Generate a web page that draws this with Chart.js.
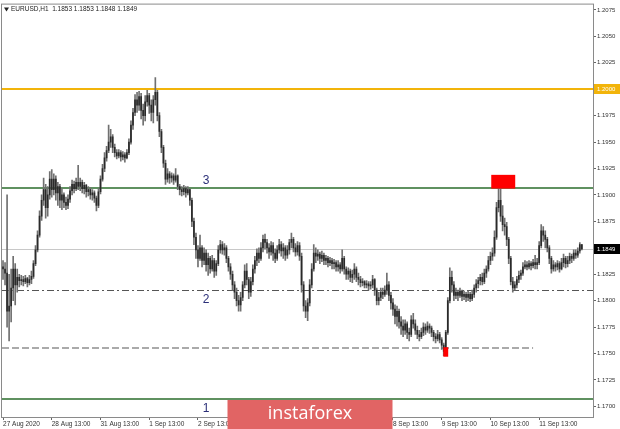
<!DOCTYPE html>
<html>
<head>
<meta charset="utf-8">
<script src="https://cdn.jsdelivr.net/npm/chart.js@4.4.0/dist/chart.umd.min.js"></script>
<style>
  html, body { margin: 0; padding: 0; background: #fff; }
</style>
</head>
<body>
<canvas id="chart" width="620" height="429"></canvas>
<script>
// EURUSD H1 candles, prices kept in pips above 1.0000 (1849 -> 1.1849)
const closeP = [
  1830,1826,1790,1795,1812,1830,1815,1822,1819,1820, 1818,1821,1817,1820,1823,1835,1848,1862,1880,1895,
  1905,1888,1900,1915,1905,1915,1902,1908,1895,1900, 1893,1890,1896,1904,1910,1906,1912,1908,1912,1906,
  1909,1903,1905,1900,1902,1897,1890,1903,1915,1925, 1935,1942,1950,1955,1945,1940,1937,1940,1936,1938,
  1935,1940,1950,1966,1978,1990,1985,1993,1980,1975, 1988,1994,1985,1978,1990,1997,1975,1960,1945,1930,
  1915,1920,1916,1918,1914,1918,1908,1905,1903,1906, 1902,1905,1895,1875,1860,1848,1840,1850,1838,1845,
  1834,1840,1830,1838,1828,1835,1848,1853,1848,1850, 1840,1832,1825,1815,1808,1800,1796,1803,1815,1828,
  1820,1808,1818,1830,1838,1845,1840,1850,1858,1855, 1850,1846,1852,1845,1840,1848,1853,1847,1850,1843,
  1848,1855,1858,1850,1846,1852,1842,1815,1795,1790, 1798,1815,1830,1845,1842,1844,1840,1843,1838,1840,
  1836,1838,1835,1836,1832,1834,1830,1840,1830,1825, 1828,1822,1825,1830,1822,1820,1817,1818,1815,1816,
  1814,1815,1820,1810,1800,1803,1808,1806,1810,1815, 1805,1798,1792,1785,1790,1780,1776,1772,1778,1770,
  1768,1782,1778,1772,1768,1766,1770,1775,1772,1776, 1774,1770,1766,1764,1768,1763,1758,1752,1770,1800,
  1822,1815,1805,1808,1805,1809,1804,1806,1803,1806, 1802,1806,1812,1816,1819,1822,1818,1826,1830,1838,
  1842,1845,1860,1888,1895,1880,1872,1870,1858,1840, 1818,1812,1815,1820,1824,1826,1832,1834,1832,1835,
  1833,1836,1834,1836,1852,1866,1862,1858,1850,1840, 1830,1834,1832,1835,1830,1836,1840,1835,1838,1842,
  1840,1845,1843,1847,1853,1849
];
const highP = [
  1838,1836,1900,1825,1830,1842,1835,1830,1825,1824, 1823,1824,1822,1824,1828,1838,1852,1866,1885,1900,
  1916,1910,1908,1922,1924,1920,1918,1912,1910,1906, 1902,1898,1900,1908,1914,1913,1916,1928,1916,1914,
  1912,1910,1908,1907,1905,1904,1899,1906,1918,1929, 1940,1946,1966,1962,1957,1948,1943,1943,1942,1941,
  1940,1943,1953,1970,1982,1995,1997,1998,1996,1986, 1994,1999,1996,1990,1994,2011,1999,1978,1962,1947,
  1933,1925,1922,1921,1920,1925,1919,1910,1908,1909, 1908,1908,1906,1897,1878,1864,1852,1862,1852,1850,
  1848,1845,1842,1843,1840,1838,1852,1857,1856,1854, 1852,1842,1835,1828,1818,1812,1805,1808,1818,1834,
  1835,1822,1822,1834,1842,1849,1850,1855,1862,1863, 1858,1854,1856,1855,1849,1852,1858,1856,1854,1852,
  1852,1858,1864,1860,1854,1856,1855,1845,1818,1800, 1802,1820,1835,1853,1850,1848,1846,1847,1845,1843,
  1842,1841,1840,1839,1838,1838,1836,1848,1842,1832, 1831,1830,1829,1835,1832,1826,1823,1821,1819,1819,
  1818,1818,1824,1821,1812,1808,1812,1812,1814,1826, 1818,1808,1802,1796,1795,1792,1785,1782,1782,1780,
  1774,1786,1788,1782,1776,1772,1774,1779,1778,1780, 1778,1776,1772,1769,1772,1770,1765,1760,1772,1803,
  1831,1828,1818,1812,1810,1812,1810,1809,1808,1809, 1808,1810,1815,1820,1822,1825,1826,1830,1833,1842,
  1846,1850,1866,1893,1908,1912,1890,1878,1874,1860, 1842,1822,1818,1823,1828,1829,1836,1838,1837,1838,
  1837,1839,1843,1840,1856,1872,1870,1866,1860,1852, 1842,1838,1836,1838,1837,1840,1844,1842,1842,1845,
  1844,1848,1848,1850,1855,1853
];
const lowP = [
  1820,1815,1775,1762,1780,1800,1796,1808,1813,1815, 1814,1816,1813,1815,1816,1821,1833,1846,1860,1876,
  1890,1878,1880,1896,1898,1900,1895,1890,1888,1886, 1888,1886,1887,1893,1900,1902,1904,1905,1904,1902,
  1901,1898,1899,1896,1895,1893,1885,1888,1901,1913, 1922,1932,1940,1945,1940,1936,1934,1935,1932,1933,
  1931,1934,1938,1948,1962,1975,1978,1980,1972,1966, 1970,1984,1977,1970,1968,1985,1970,1955,1940,1926,
  1910,1912,1911,1912,1910,1912,1905,1900,1899,1900, 1898,1900,1890,1870,1853,1840,1832,1838,1832,1834,
  1828,1824,1826,1828,1822,1824,1833,1845,1844,1843, 1836,1828,1820,1810,1802,1795,1790,1790,1800,1812,
  1815,1802,1804,1815,1826,1833,1836,1838,1846,1849, 1845,1840,1843,1838,1836,1838,1845,1842,1840,1838,
  1840,1844,1850,1846,1842,1843,1838,1808,1790,1784, 1781,1795,1812,1828,1836,1838,1835,1837,1834,1834,
  1832,1833,1830,1830,1828,1828,1826,1828,1825,1820, 1820,1818,1817,1820,1818,1815,1813,1814,1812,1812,
  1810,1811,1812,1805,1796,1796,1800,1802,1804,1806, 1800,1792,1786,1778,1776,1774,1768,1766,1768,1764,
  1762,1766,1774,1768,1764,1762,1764,1767,1768,1770, 1769,1766,1762,1760,1762,1760,1754,1748,1752,1768,
  1798,1808,1800,1802,1800,1803,1800,1801,1799,1800, 1799,1800,1803,1808,1812,1815,1815,1816,1822,1828,
  1834,1838,1842,1858,1884,1875,1866,1862,1852,1835, 1815,1808,1810,1812,1817,1820,1824,1830,1829,1830,
  1829,1831,1830,1830,1834,1850,1856,1850,1846,1835, 1826,1828,1828,1829,1827,1829,1832,1831,1832,1835,
  1836,1838,1840,1841,1845,1848
];
const firstOpen = 1832;
const emptyBars = 5;

const tickIdx = [0, 24, 48, 72, 96, 120, 144, 168, 192, 216, 240, 264];
const tickText = ['27 Aug 2020', '28 Aug 13:00', '31 Aug 13:00', '1 Sep 13:00', '2 Sep 13:00', '3 Sep 13:00',
  '4 Sep 13:00', '7 Sep 13:00', '8 Sep 13:00', '9 Sep 13:00', '10 Sep 13:00', '11 Sep 13:00'];
const priceTicks = [1.1700, 1.1725, 1.1750, 1.1775, 1.1800, 1.1825, 1.1875, 1.1900, 1.1925, 1.1950, 1.1975,
  1.2025, 1.2050, 1.2075];

// drawn levels: round 1.2000, level 3, level 2, low of 9 Sep, level 1
const levelPrices = [1.2000, 1.1907, 1.1810, 1.1755, 1.1707];
const levelNames = ['', '3', '2', '', '1'];
const levelEndBar = [null, null, null, 261, null];
const nameBar = 100;
const bidPrice = 1.1849;
const zonePrices = [[1.1906, 1.1919], [1.1747, 1.1756]];
const zoneBars = [[240.4, 252.2], [216.8, 219.2]];

const px = p => 1 + p / 10000;
const n = closeP.length;
const labels = [];
for (let i = 0; i < n + emptyBars; i++) labels.push('');
tickIdx.forEach((i, k) => { labels[i] = tickText[k]; });

const wicks = [];
const bodies = [];
for (let i = 0; i < n; i++) {
  const o = i ? closeP[i - 1] : firstOpen;
  wicks.push([px(lowP[i]), px(highP[i])]);
  bodies.push([px(o), px(closeP[i])]);
}

const levelStyle = [
  { color: '#f2b40a', width: 2, dash: [] },
  { color: '#5f9160', width: 2, dash: [] },
  { color: '#555555', width: 1, dash: [7, 3, 2, 3] },
  { color: '#aaaaaa', width: 2, dash: [7, 3] },
  { color: '#5f9160', width: 2, dash: [] }
];

const overlay = {
  id: 'overlay',
  beforeDatasetsDraw(chart) {
    const { ctx, chartArea: a, scales: { x, y } } = chart;
    ctx.save();
    // bid line
    let yy = Math.round(y.getPixelForValue(bidPrice)) + 0.5;
    ctx.strokeStyle = '#c8c8c8';
    ctx.lineWidth = 1;
    ctx.beginPath(); ctx.moveTo(a.left, yy); ctx.lineTo(a.right, yy); ctx.stroke();

    levelPrices.forEach((p, k) => {
      const st = levelStyle[k];
      yy = Math.round(y.getPixelForValue(p)) + (st.width % 2 ? 0.5 : 0);
      const x1 = levelEndBar[k] != null ? x.getPixelForValue(levelEndBar[k]) : a.right;
      ctx.strokeStyle = st.color;
      ctx.lineWidth = st.width;
      ctx.setLineDash(st.dash);
      ctx.beginPath(); ctx.moveTo(a.left, yy); ctx.lineTo(x1, yy); ctx.stroke();
    });
    ctx.restore();
  },
  afterDatasetsDraw(chart) {
    const { ctx, scales: { x, y } } = chart;
    ctx.save();
    ctx.fillStyle = '#ff0000';
    zonePrices.forEach((pr, k) => {
      const x0 = x.getPixelForValue(zoneBars[k][0]);
      const x1 = x.getPixelForValue(zoneBars[k][1]);
      const y0 = y.getPixelForValue(pr[1]);
      const y1 = y.getPixelForValue(pr[0]);
      ctx.fillRect(x0, y0, x1 - x0, y1 - y0);
    });
    ctx.fillStyle = '#2b2f78';
    ctx.font = '12px "Liberation Sans", Arial, sans-serif';
    ctx.textAlign = 'center';
    levelNames.forEach((t, k) => {
      if (!t) return;
      const yy = y.getPixelForValue(levelPrices[k]);
      const xx = x.getPixelForValue(nameBar);
      if (k === 1) { ctx.textBaseline = 'bottom'; ctx.fillText(t, xx, yy - 1); }
      else { ctx.textBaseline = 'top'; ctx.fillText(t, xx, yy + 4); }
    });
    ctx.restore();
  },
  afterDraw(chart) {
    const { ctx, chartArea: a, scales: { y } } = chart;
    ctx.save();
    // frame
    ctx.strokeStyle = '#8a8a8a';
    ctx.lineWidth = 1;
    ctx.strokeRect(a.left - 0.5, a.top - 0.5, a.right - a.left + 1, a.bottom - a.top + 1);

    // price boxes on the axis
    ctx.font = '6px "Liberation Sans", Arial, sans-serif';
    ctx.textBaseline = 'middle';
    ctx.textAlign = 'left';
    const box = (p, fill, txt) => {
      const yy = Math.round(y.getPixelForValue(p));
      ctx.fillStyle = fill;
      ctx.fillRect(a.right + 1, yy - 5, chart.width - a.right - 1, 10);
      ctx.fillStyle = txt;
      ctx.fillText(p.toFixed(4), a.right + 4, yy);
    };
    box(levelPrices[0], '#f2b40a', '#ffffff');
    box(bidPrice, '#000000', '#ffffff');

    // title line from the last candle
    const last = n - 1;
    const vals = [closeP[last - 1], highP[last], lowP[last], closeP[last]].map(v => px(v).toFixed(4));
    ctx.fillStyle = '#222';
    ctx.font = '6.5px "Liberation Sans", Arial, sans-serif';
    ctx.fillText('EURUSD,H1  ' + vals.join(' '), a.left + 9, a.top + 5);
    ctx.beginPath();
    ctx.moveTo(a.left + 2, a.top + 3); ctx.lineTo(a.left + 7, a.top + 3); ctx.lineTo(a.left + 4.5, a.top + 7);
    ctx.closePath(); ctx.fill();

    // banner
    const bw = 165;
    const bx = (chart.width - bw) / 2;
    const by = a.bottom - 17;
    ctx.fillStyle = '#e16464';
    ctx.fillRect(bx, by, bw, chart.height - by);
    ctx.fillStyle = '#ffffff';
    ctx.font = '18px "Open Sans", "Liberation Sans", sans-serif';
    ctx.textAlign = 'center';
    ctx.textBaseline = 'middle';
    ctx.fillText('instaforex', chart.width / 2, by + 14);
    ctx.restore();
  }
};

new Chart(document.getElementById('chart'), {
  type: 'bar',
  data: {
    labels: labels,
    datasets: [
      { data: bodies, backgroundColor: '#2a2a2a', barThickness: 1, grouped: false, minBarLength: 1 },
      { data: wicks, backgroundColor: '#707070', barThickness: 1, grouped: false }
    ]
  },
  options: {
    responsive: false,
    animation: false,
    devicePixelRatio: 1,
    layout: { padding: { left: 2, top: 2, right: 0, bottom: 0 } },
    plugins: { legend: { display: false }, tooltip: { enabled: false } },
    scales: {
      x: {
        afterBuildTicks: s => { s.ticks = tickIdx.map(v => ({ value: v })); },
        afterFit: s => { s.height = 12; },
        ticks: {
          autoSkip: false, maxRotation: 0, align: 'start', padding: 0,
          color: '#333', font: { family: 'Liberation Sans', size: 6.5 }
        },
        grid: { drawOnChartArea: false, tickLength: 3, offset: false, color: '#666' },
        border: { color: '#666' }
      },
      y: {
        position: 'right',
        min: 1.1690,
        max: 1.2080,
        afterBuildTicks: s => { s.ticks = priceTicks.map(v => ({ value: v })); },
        afterFit: s => { s.width = 27; },
        ticks: {
          callback: v => v.toFixed(4), padding: 1,
          color: '#333', font: { family: 'Liberation Sans', size: 6 }
        },
        grid: { drawOnChartArea: false, tickLength: 3, color: '#666' },
        border: { color: '#666' }
      }
    }
  },
  plugins: [overlay]
});
</script>
</body>
</html>
